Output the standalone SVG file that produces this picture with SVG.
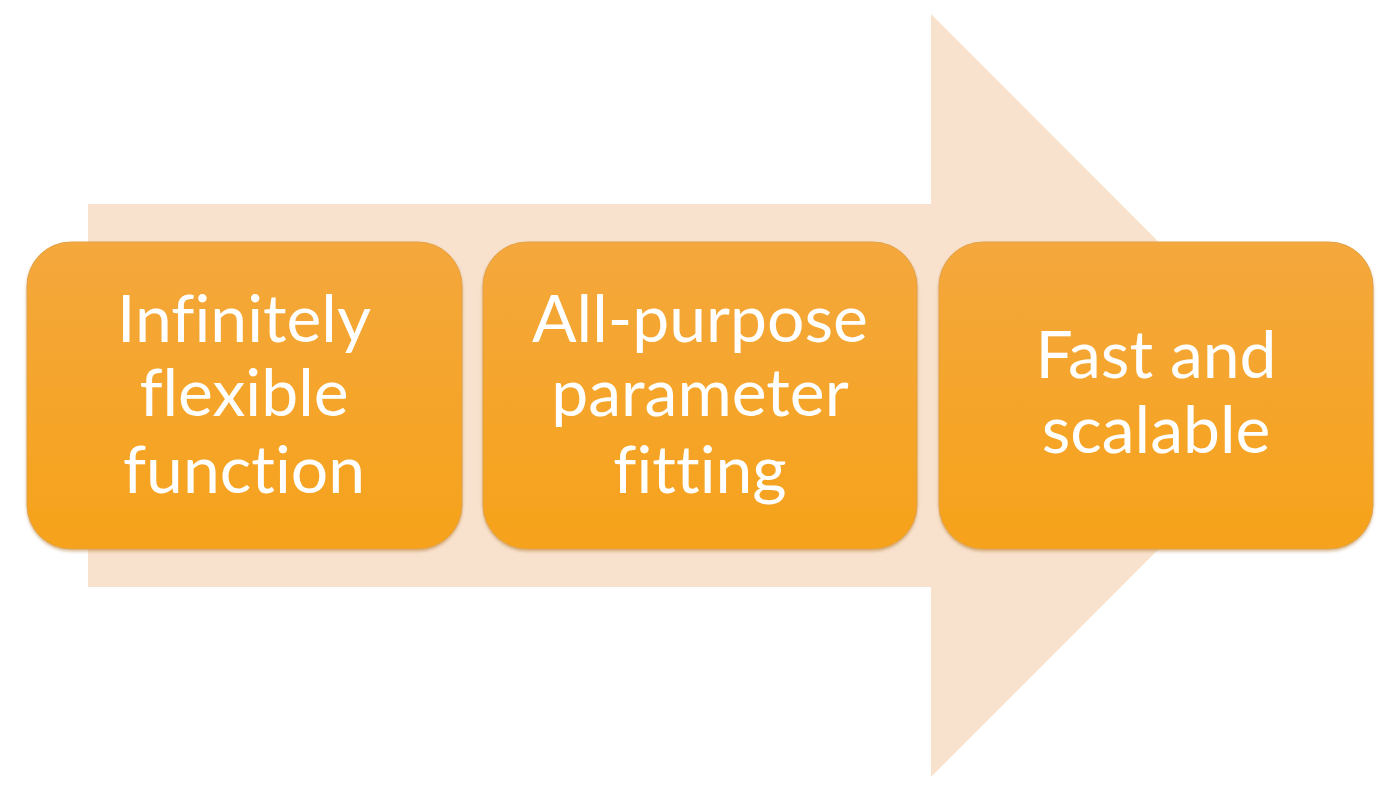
<svg xmlns="http://www.w3.org/2000/svg" width="1400" height="792" viewBox="0 0 1400 792">
<defs>
<linearGradient id="g" x1="0" y1="0" x2="0" y2="1">
<stop offset="0" stop-color="#f4a83c"/>
<stop offset="1" stop-color="#f6a21b"/>
</linearGradient>
<filter id="sh" x="-5%" y="-5%" width="110%" height="112%">
<feDropShadow dx="0" dy="2" stdDeviation="1.5" flood-color="#b07830" flood-opacity="0.5"/>
</filter>
<style>
.box{fill:url(#g);stroke:#e2a24a;stroke-width:1;filter:url(#sh)}
.t{font-family:Lato,"Open Sans","Liberation Sans",sans-serif;font-size:66px;fill:#ffffff;text-anchor:middle;font-variant-ligatures:none;font-feature-settings:"liga" 0,"clig" 0}
</style>
</defs>
<rect width="1400" height="792" fill="#ffffff"/>
<g id="connectors">
<polygon id="arrow" points="88,204 931,204 931,14 1312,395.5 931,777 931,587 88,587" fill="#f8e2cd"/>
</g>
<g id="node1">
<rect class="box" x="27" y="242" width="435" height="307" rx="44"/>
<text class="t" x="244" y="342">Infinitely</text>
<text class="t" x="244" y="416">flexible</text>
<text class="t" x="244" y="493">function</text>
</g>
<g id="node2">
<rect class="box" x="483" y="242" width="434" height="307" rx="44"/>
<text class="t" x="700" y="342">All-purpose</text>
<text class="t" x="700" y="416">parameter</text>
<text class="t" x="700" y="493">fitting</text>
</g>
<g id="node3">
<rect class="box" x="939" y="242" width="434" height="307" rx="44"/>
<text class="t" x="1156" y="378">Fast and</text>
<text class="t" x="1156" y="453">scalable</text>
</g>
</svg>
